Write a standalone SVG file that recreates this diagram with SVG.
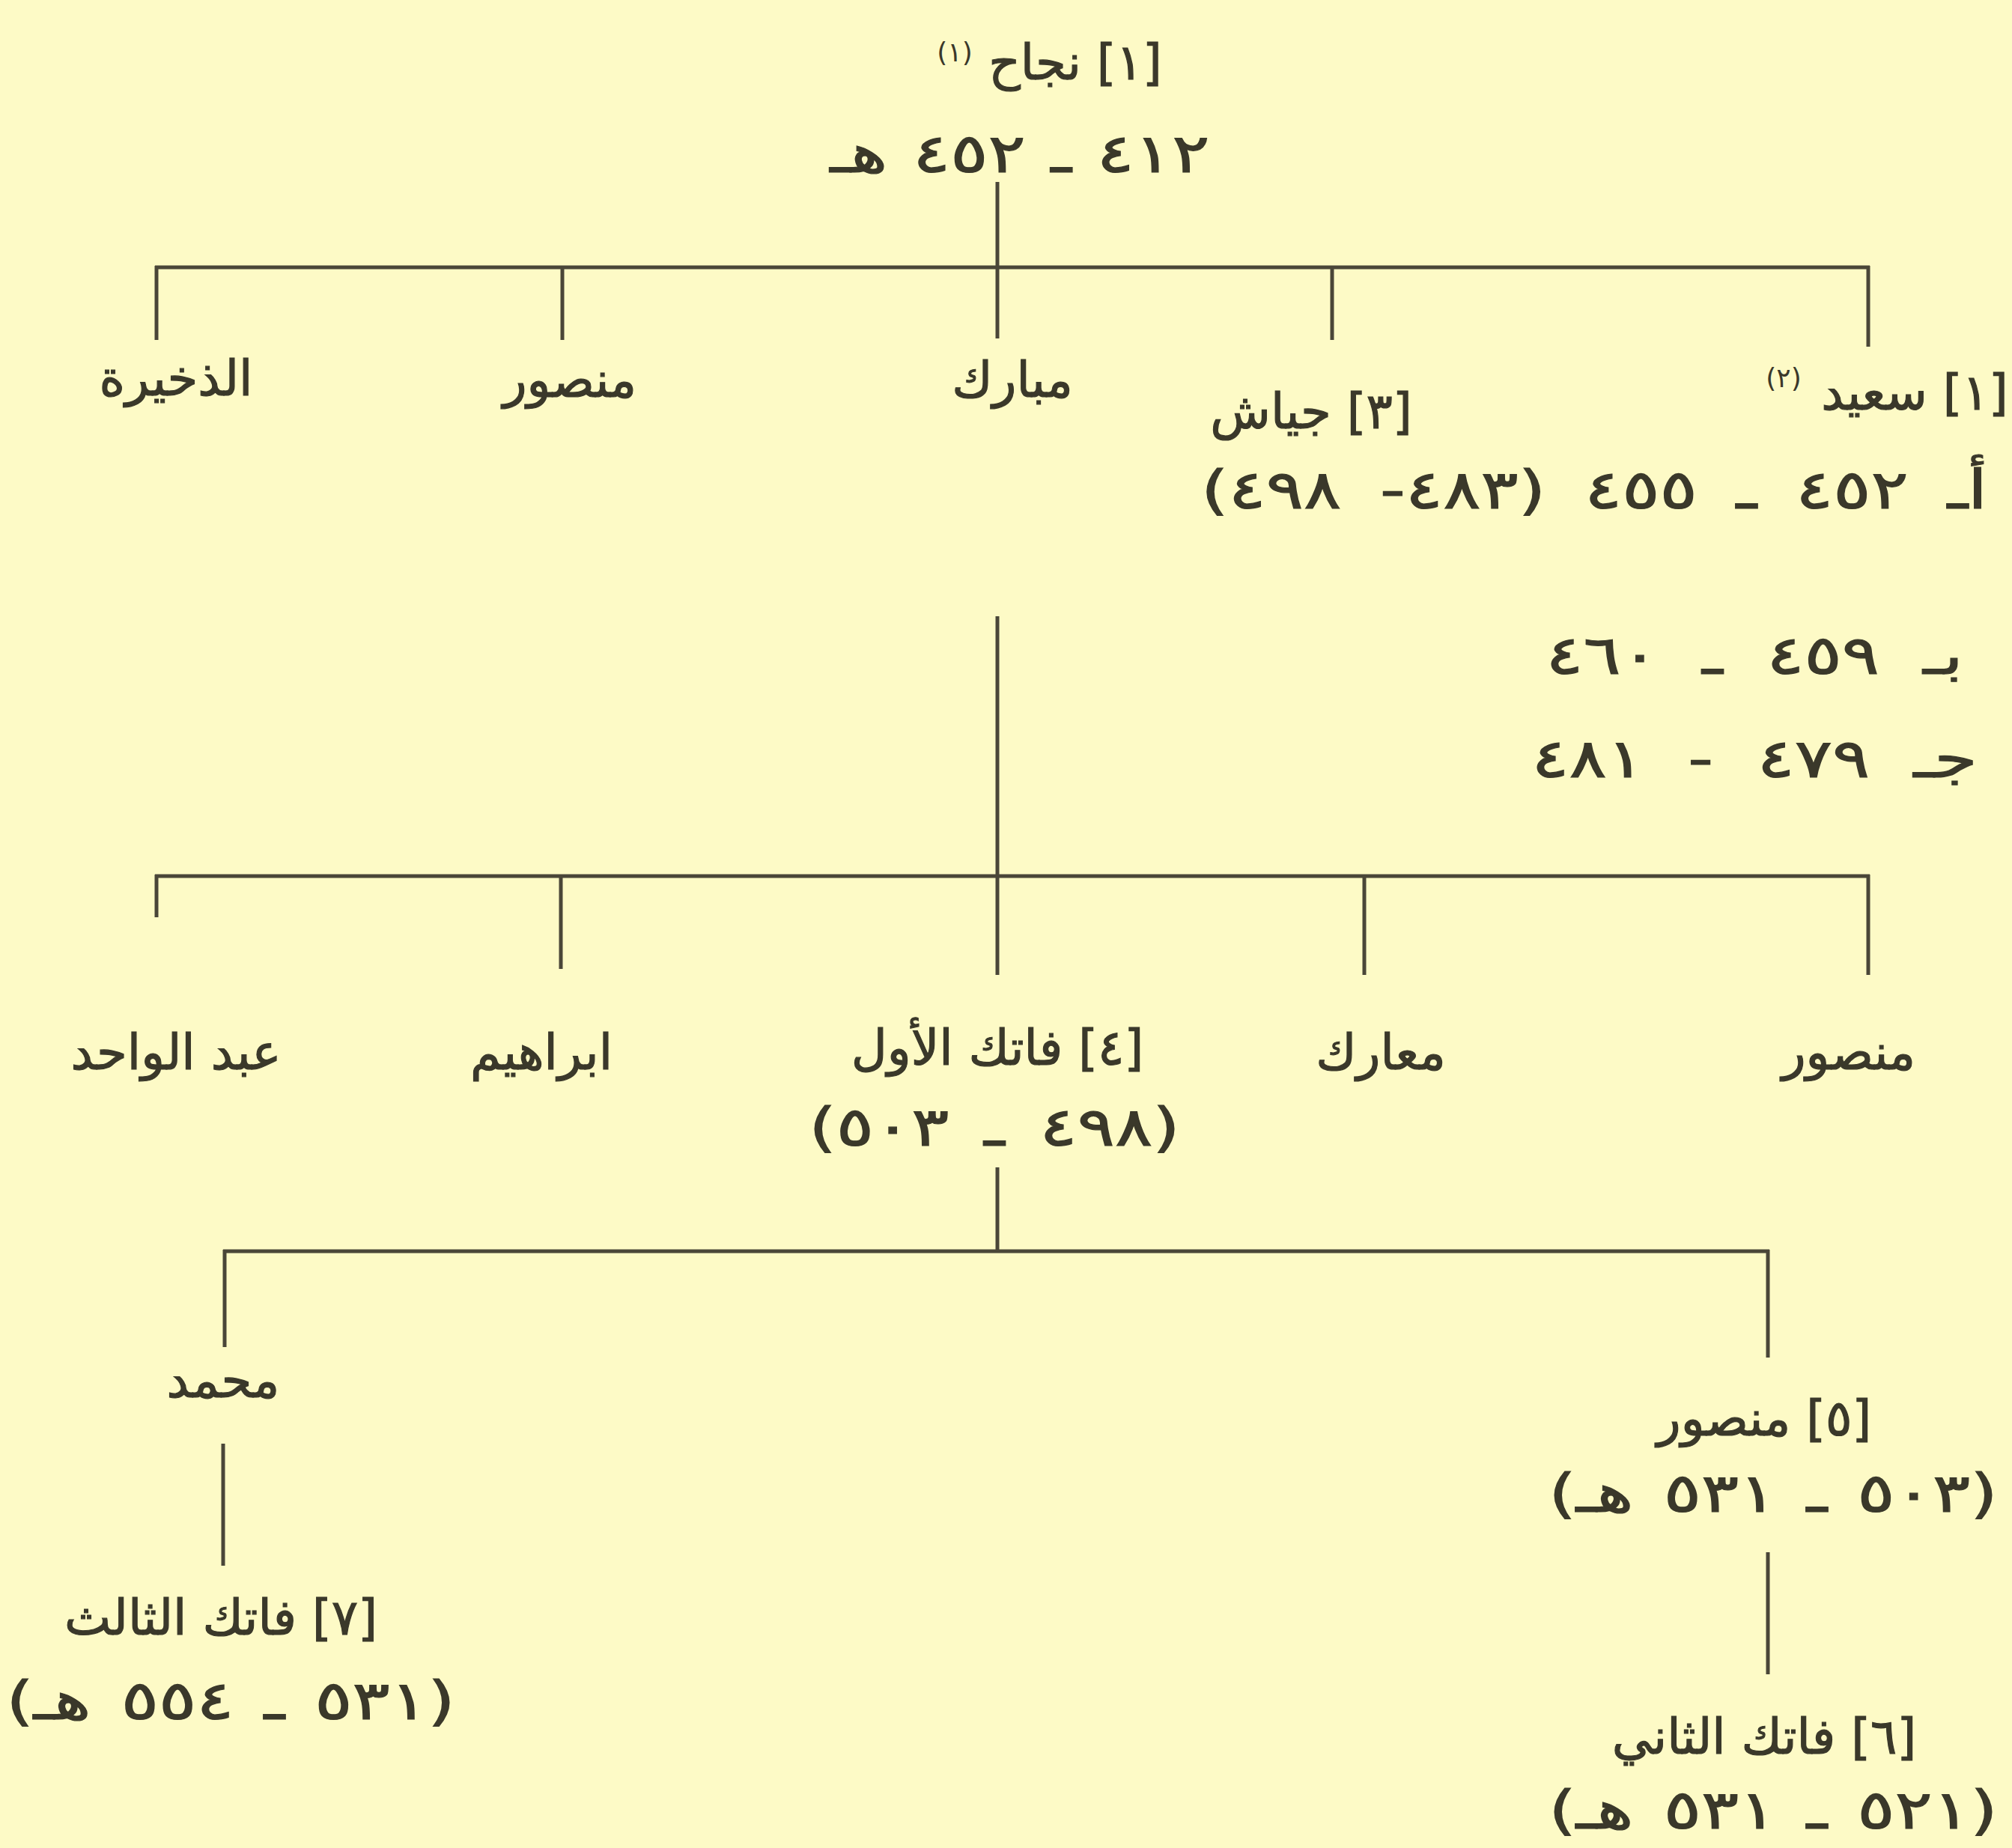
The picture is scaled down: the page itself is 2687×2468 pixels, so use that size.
<svg xmlns="http://www.w3.org/2000/svg" width="2687" height="2468" viewBox="0 0 2687 2468">
<style>
.t{font-family:"DejaVu Sans",sans-serif;font-size:66px;fill:#3a382a;stroke:#3a382a;stroke-width:1.2;direction:rtl;unicode-bidi:embed;text-anchor:middle}
.d{font-size:72px}
.s{font-family:"DejaVu Sans",sans-serif;font-size:36px;fill:#3a382a;direction:rtl;unicode-bidi:embed;text-anchor:middle}
.c line{stroke:#4a4638;stroke-width:5;stroke-linecap:butt}
</style>
<rect width="2687" height="2468" fill="#fdfac6"/>
<g id="connectors" class="c">
<line x1="1332" y1="243" x2="1332" y2="357"/>
<line x1="207" y1="357" x2="2497" y2="357"/>
<line x1="209" y1="355" x2="209" y2="454"/>
<line x1="751" y1="355" x2="751" y2="454"/>
<line x1="1332" y1="355" x2="1332" y2="452"/>
<line x1="1779" y1="355" x2="1779" y2="454"/>
<line x1="2495" y1="355" x2="2495" y2="463"/>
<line x1="1332" y1="823" x2="1332" y2="1302"/>
<line x1="207" y1="1170" x2="2497" y2="1170"/>
<line x1="209" y1="1168" x2="209" y2="1225"/>
<line x1="749" y1="1168" x2="749" y2="1294"/>
<line x1="1822" y1="1168" x2="1822" y2="1302"/>
<line x1="2495" y1="1168" x2="2495" y2="1302"/>
<line x1="1332" y1="1559" x2="1332" y2="1671"/>
<line x1="298" y1="1671" x2="2363" y2="1671"/>
<line x1="300" y1="1669" x2="300" y2="1799"/>
<line x1="2361" y1="1669" x2="2361" y2="1813"/>
<line x1="298" y1="1928" x2="298" y2="2091"/>
<line x1="2361" y1="2073" x2="2361" y2="2236"/>
</g>
<g id="najah">
<text class="t" x="1436" y="106">[١] نجاح</text>
<text class="s" x="1275" y="82">(١)</text>
<text class="t d" transform="translate(1362,230) scale(1.3,1)" style="word-spacing:3px">٤١٢ ـ ٤٥٢ هـ</text>
</g>
<g id="dhakhira"><text class="t" x="235" y="528">الذخيرة</text></g>
<g id="mansur1"><text class="t" x="761" y="530">منصور</text></g>
<g id="mubarak"><text class="t" x="1352" y="530">مبارك</text></g>
<g id="jayyash">
<text class="t" x="1751" y="572">[٣] جياش</text>
</g>
<g id="said">
<text class="t" x="2557" y="547">[١] سعيد</text>
<text class="s" x="2382" y="517">(٢)</text>
<text class="t d" transform="translate(2129,679) scale(1.3,1)" style="word-spacing:17px">أـ ٤٥٢ ـ ٤٥٥ (٤٨٣- ٤٩٨)</text>
<text class="t d" transform="translate(2343,900) scale(1.3,1)" style="word-spacing:22px">بـ ٤٥٩ ـ ٤٦٠</text>
<text class="t d" transform="translate(2343,1038) scale(1.3,1)" style="word-spacing:22px">جـ ٤٧٩ - ٤٨١</text>
</g>
<g id="abdulwahid"><text class="t" x="235" y="1428">عبد الواحد</text></g>
<g id="ibrahim"><text class="t" x="723" y="1428">ابراهيم</text></g>
<g id="fatik1">
<text class="t" x="1332" y="1422">[٤] فاتك الأول</text>
<text class="t d" transform="translate(1328,1530) scale(1.3,1)" style="word-spacing:13px">(٤٩٨ ـ ٥٠٣)</text>
</g>
<g id="muarik"><text class="t" x="1844" y="1428">معارك</text></g>
<g id="mansur2"><text class="t" x="2469" y="1428">منصور</text></g>
<g id="muhammad"><text class="t" x="298" y="1866">محمد</text></g>
<g id="mansur3">
<text class="t" x="2356" y="1917">[٥] منصور</text>
<text class="t d" transform="translate(2368,2019) scale(1.3,1)" style="word-spacing:8px">(٥٠٣ ـ ٥٣١ هـ)</text>
</g>
<g id="fatik3">
<text class="t" x="295" y="2183">[٧] فاتك الثالث</text>
<text class="t d" transform="translate(308,2296) scale(1.3,1)" style="word-spacing:8px">(٥٣١ ـ ٥٥٤ هـ)</text>
</g>
<g id="fatik2">
<text class="t" x="2356" y="2342">[٦] فاتك الثاني</text>
<text class="t d" transform="translate(2368,2442) scale(1.3,1)" style="word-spacing:8px">(٥٢١ ـ ٥٣١ هـ)</text>
</g>
</svg>
